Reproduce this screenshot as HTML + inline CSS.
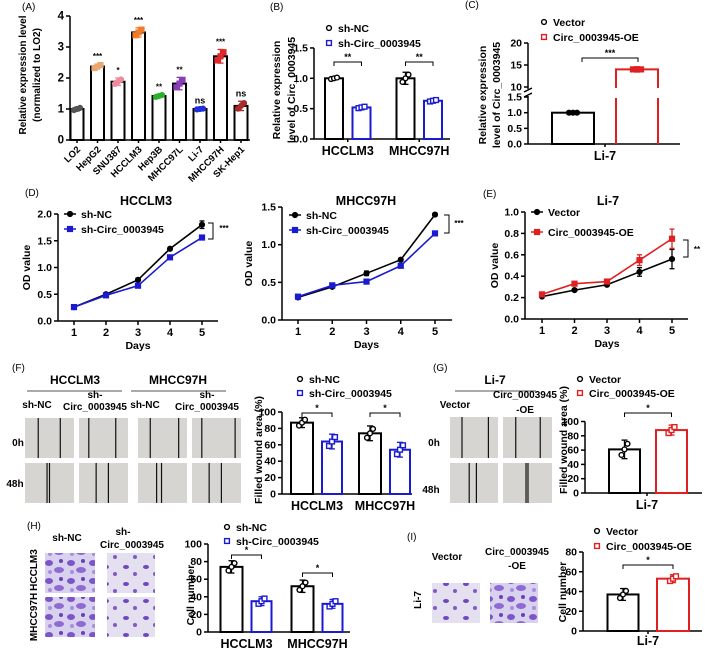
<!DOCTYPE html>
<html><head><meta charset="utf-8">
<style>
html,body{margin:0;padding:0;background:#fff;}
svg{display:block;font-family:"Liberation Sans",Arial,sans-serif;font-weight:bold;}
</style></head>
<body>
<svg id="fig" width="709" height="651" viewBox="0 0 709 651" xmlns="http://www.w3.org/2000/svg">
<defs>
<pattern id="inv1" width="22" height="18" patternUnits="userSpaceOnUse">
<rect width="22" height="18" fill="#d9d2ee"/>
<ellipse cx="5" cy="5" rx="4" ry="3" fill="#7c55c8"/>
<ellipse cx="15" cy="12" rx="5" ry="3" fill="#8e6ad2"/>
<ellipse cx="17" cy="3" rx="2" ry="2" fill="#6a40b8"/>
<ellipse cx="6" cy="14" rx="2" ry="2" fill="#a88ee0"/>
</pattern>
<pattern id="inv2" width="20" height="17" patternUnits="userSpaceOnUse">
<rect width="20" height="17" fill="#e4e0f0"/>
<ellipse cx="6" cy="6" rx="3" ry="2" fill="#6f48c0"/>
<ellipse cx="15" cy="13" rx="2" ry="2" fill="#7e5acb"/>
</pattern>
</defs>
</svg>
<script>
// ===== data =====
// Panel A
const aCats = ["LO2","HepG2","SNU387","HCCLM3","Hep3B","MHCC97L","Li-7","MHCC97H","SK-Hep1"];
const aVals = [1.0,2.37,1.88,3.47,1.42,1.82,1.0,2.7,1.1];
const aErrs = [0.06,0.08,0.12,0.15,0.05,0.2,0.02,0.22,0.15];
const aSig = ["","***","*","***","**","**","ns","***","ns"];
const aTicks = [0,1,2,3,4];
// Panel B
const bGroups = ["HCCLM3","MHCC97H"];
const bNC = [1.0,1.0];
const bNCerr = [0.02,0.1];
const bSh = [0.52,0.63];
const bShErr = [0.02,0.02];
const bTicks = [0,0.5,1.0,1.5];
// Panel C
const cVals = [1.0,14.0];
const cErrs = [0.04,0.6];
const cLowTicks = [0,0.5,1.0,1.5];
const cHighTicks = [10,15,20];
// Panel D/E
const days = [1,2,3,4,5];
const d1NC = [0.26,0.5,0.77,1.35,1.8];
const d1NCerr = [0.02,0.02,0.03,0.02,0.07];
const d1Sh = [0.26,0.48,0.66,1.19,1.56];
const d1ShErr = [0.02,0.02,0.02,0.02,0.02];
const d1Ticks = [0,0.5,1.0,1.5,2.0];
const d2NC = [0.3,0.44,0.62,0.8,1.4];
const d2NCerr = [0.02,0.02,0.03,0.02,0.02];
const d2Sh = [0.31,0.46,0.51,0.72,1.15];
const d2ShErr = [0.02,0.02,0.02,0.02,0.02];
const d2Ticks = [0,0.5,1.0,1.5];
const eVec = [0.21,0.27,0.32,0.44,0.56];
const eVecErr = [0.01,0.01,0.01,0.04,0.09];
const eOE = [0.23,0.33,0.35,0.55,0.75];
const eOEerr = [0.01,0.01,0.01,0.05,0.09];
const eTicks = [0,0.2,0.4,0.6,0.8,1.0];
// Panel F
const fGroups = ["HCCLM3","MHCC97H"];
const fNC = [87,74];
const fNCerr = [6,9];
const fSh = [64,54];
const fShErr = [9,9];
const fTicks = [0,20,40,60,80,100];
// Panel G
const gVals = [61,88];
const gErrs = [13,7];
const gTicks = [0,20,40,60,80,100];
// Panel H
const hGroups = ["HCCLM3","MHCC97H"];
const hNC = [74,52];
const hNCerr = [7,7];
const hSh = [35,32];
const hShErr = [5,5];
const hTicks = [0,20,40,60,80,100];
// Panel I
const iVals = [37,53];
const iErrs = [6,4];
const iTicks = [0,20,40,60,80];

// ===== helpers =====
const NS = "http://www.w3.org/2000/svg";
const svg = document.getElementById('fig');
function mk(tag, attrs, name) {
  const e = document.createElementNS(NS, tag);
  for (const k in attrs) e.setAttribute(k, attrs[k]);
  
  
  svg.appendChild(e);
  return e;
}
function T(x, y, s, size, name, o) {
  o = o || {};
  const a = {x: x, y: y, 'font-size': size, 'text-anchor': o.anchor || 'middle', fill: o.fill || '#000'};
  if (o.rot) a.transform = 'rotate(' + o.rot + ' ' + x + ' ' + y + ')';
  if (o.weight) a['font-weight'] = o.weight;
  const e = mk('text', a, name);
  e.textContent = s;
  return e;
}
function L(x1, y1, x2, y2, name, c, w) {
  return mk('line', {x1: x1, y1: y1, x2: x2, y2: y2, stroke: c || '#000', 'stroke-width': w || 1.5}, name);
}
function yAxis(ax, yOf, ticks, fmt, name, fs) {
  L(ax, yOf(ticks[ticks.length - 1]) , ax, yOf(ticks[0]), name + '-y-axis');
  ticks.forEach(t => {
    L(ax - 4, yOf(t), ax, yOf(t), name + '-y-tick');
    T(ax - 6, yOf(t) + 3.5, fmt(t), fs || 10.5, name + '-y-tick-label', {anchor: 'end'});
  });
}
function marker(x, y, shape, color, name, filled) {
  if (shape === 'c') return mk('circle', {cx: x, cy: y, r: 2.4, fill: filled ? color : '#fff', stroke: color, 'stroke-width': 1.4}, name);
  return mk('rect', {x: x - 2.4, y: y - 2.4, width: 4.8, height: 4.8, fill: filled ? color : '#fff', stroke: color, 'stroke-width': 1.4}, name);
}
function errBar(x, yLo, yHi, color, name, cap) {
  cap = cap || 3;
  L(x, yLo, x, yHi, name, color, 1.3);
  L(x - cap, yHi, x + cap, yHi, name + '-cap', color, 1.3);
  L(x - cap, yLo, x + cap, yLo, name + '-cap', color, 1.3);
}
function bar(cx, w, yOf, v, e, color, shape, name) {
  mk('rect', {x: cx - w / 2, y: yOf(v), width: w, height: yOf(0) - yOf(v), fill: '#fff', stroke: color, 'stroke-width': 2}, name);
  errBar(cx, yOf(v - e), yOf(v + e), color, name + '-error');
  [-3, 0, 3].forEach((dx, k) => {
    const vv = v + (k - 1) * e * 0.6;
    marker(cx + dx, yOf(vv), shape, color, name + '-point', false);
  });
}
function bracket(x1, x2, y, label, name) {
  mk('path', {d: 'M' + x1 + ' ' + (y + 4) + 'V' + y + 'H' + x2 + 'V' + (y + 4), fill: 'none', stroke: '#000', 'stroke-width': 1}, name);
  T((x1 + x2) / 2, y - 2, label, 9, name + '-label');
}
function legend(x, y, label, shape, color, name, line) {
  if (line) L(x - 6, y, x + 6, y, name + '-line', color, 1.5);
  marker(x, y, shape, color, name + '-marker', !!line);
  T(x + (line ? 11 : 9), y + 4, label, 10.5, name + '-label', {anchor: 'start'});
}
function panelLabel(x, y, s) { T(x, y, s, 10, 'panel-label-' + s.replace(/[()]/g, '').toLowerCase(), {anchor: 'start', weight: 'normal'}); }

// ===== Panel A =====
panelLabel(22, 10, '(A)');
(function () {
  const ax = 70, y0 = 140, ppu = 31, xEnd = 250;
  const yOf = v => y0 - v * ppu;
  const xOf = i => 77 + i * 20.5;
  const colors = ['#555', '#e8a870', '#f08a9a', '#f07a28', '#2ab02a', '#8a3cb8', '#2030d8', '#e02828', '#a82a2a'];
  yAxis(ax, yOf, aTicks, t => String(t), 'a', 11.5);
  L(ax, y0, xEnd, y0, 'a-x-axis');
  aCats.forEach((c, i) => {
    mk('rect', {x: xOf(i) - 6.5, y: yOf(aVals[i]), width: 13, height: y0 - yOf(aVals[i]), fill: '#fff', stroke: '#000', 'stroke-width': 2}, 'a-bar-' + c.toLowerCase());
    errBar(xOf(i), yOf(aVals[i] - aErrs[i]), yOf(aVals[i] + aErrs[i]), colors[i], 'a-error-' + c.toLowerCase());
    [-3, 0, 3].forEach((dx, k) => marker(xOf(i) + dx, yOf(aVals[i] + (k - 1) * aErrs[i] * 0.6), i % 2 ? 's' : 'c', colors[i], 'a-point', true));
    L(xOf(i), y0, xOf(i), y0 + 3, 'a-x-tick');
    T(xOf(i) + 4, y0 + 10, c, 9.5, 'a-x-label', {anchor: 'end', rot: -45});
    if (aSig[i]) T(xOf(i), yOf(aVals[i] + aErrs[i]) - 5, aSig[i], aSig[i] === 'ns' ? 9 : 8, 'a-sig-' + c.toLowerCase());
  });
  T(26, 75, 'Relative expression level', 10, 'a-y-axis-title', {rot: -90});
  T(40, 75, '(normalized to LO2)', 10, 'a-y-axis-title-2', {rot: -90});
})();

// ===== Panel B =====
panelLabel(270, 10, '(B)');
(function () {
  const ax = 314, y0 = 139, ppu = 60.7;
  const yOf = v => y0 - v * ppu;
  const gx = g => 334 + g * 71.5;
  yAxis(ax, yOf, bTicks, t => t.toFixed(1), 'b');
  L(ax, y0, 450, y0, 'b-x-axis');
  bGroups.forEach((g, i) => {
    bar(gx(i), 18, yOf, bNC[i], bNCerr[i], '#000', 'c', 'b-bar-shnc-' + g.toLowerCase());
    bar(gx(i) + 27.5, 18, yOf, bSh[i], bShErr[i], '#1a1ad0', 's', 'b-bar-shcirc-' + g.toLowerCase());
    L(gx(i) + 13.75, y0, gx(i) + 13.75, y0 + 3, 'b-x-tick');
    T(gx(i) + 13.75, y0 + 16, g, 12.5, 'b-x-label');
    bracket(gx(i), gx(i) + 27.5, 62, '**', 'b-sig-' + g.toLowerCase());
  });
  legend(329, 28, 'sh-NC', 'c', '#000', 'b-legend-shnc');
  legend(329, 43, 'sh-Circ_0003945', 's', '#1a1ad0', 'b-legend-shcirc');
  T(280, 90, 'Relative expression', 10.5, 'b-y-axis-title', {rot: -90});
  T(295, 90, 'level of Circ_0003945', 10.5, 'b-y-axis-title-2', {rot: -90});
})();

// ===== Panel C =====
panelLabel(465, 8, '(C)');
(function () {
  const ax = 528, y0 = 144;
  const yLow = v => y0 - v * 31.3;
  const yHigh = v => 87 - (v - 10) * 4.4;
  const yOf = v => v <= 1.5 ? yLow(v) : yHigh(v);
  L(ax, yHigh(20), ax, 89, 'c-y-axis-upper');
  L(ax, 96, ax, y0, 'c-y-axis-lower');
  L(ax - 4, 92, ax + 4, 88, 'c-axis-break');
  L(ax - 4, 97, ax + 4, 93, 'c-axis-break');
  cHighTicks.forEach(t => { L(ax - 4, yHigh(t), ax, yHigh(t), 'c-y-tick'); T(ax - 6, yHigh(t) + 3.5, String(t), 10.5, 'c-y-tick-label', {anchor: 'end'}); });
  cLowTicks.forEach(t => { L(ax - 4, yLow(t), ax, yLow(t), 'c-y-tick'); T(ax - 6, yLow(t) + 3.5, t.toFixed(1), 10.5, 'c-y-tick-label', {anchor: 'end'}); });
  L(ax, y0, 680, y0, 'c-x-axis');
  const cols = ['#000', '#e02020'];
  const xs = i => 573 + i * 64;
  cVals.forEach((v, i) => {
    const c = cols[i];
    const top = yOf(v);
    if (v > 1.5) {
      mk('path', {d: 'M' + (xs(i) - 21) + ' ' + y0 + 'V98M' + (xs(i) - 21) + ' 88V' + top + 'H' + (xs(i) + 21) + 'V88M' + (xs(i) + 21) + ' 98V' + y0, fill: 'none', stroke: c, 'stroke-width': 2}, 'c-bar-oe');
    } else {
      mk('rect', {x: xs(i) - 21, y: top, width: 42, height: y0 - top, fill: '#fff', stroke: c, 'stroke-width': 2}, 'c-bar-vector');
    }
    errBar(xs(i), yOf(v - cErrs[i]), yOf(v + cErrs[i]), c, 'c-error');
    [-4, 0, 4].forEach(dx => marker(xs(i) + dx, top, i ? 's' : 'c', c, 'c-point', true));
  });
  L(605, y0, 605, y0 + 3, 'c-x-tick');
  T(605, 160, 'Li-7', 12.5, 'c-x-label');
  bracket(582, 638, 58, '***', 'c-sig');
  legend(544, 22, 'Vector', 'c', '#000', 'c-legend-vector');
  legend(544, 37, 'Circ_0003945-OE', 's', '#e02020', 'c-legend-oe');
  T(486, 95, 'Relative expression', 10.5, 'c-y-axis-title', {rot: -90});
  T(500, 95, 'level of Circ_0003945', 10.5, 'c-y-axis-title-2', {rot: -90});
})();

// ===== Line charts D/E =====
function lineChart(cfg) {
  const yOf = v => cfg.y0 - v * cfg.ppu;
  const xOf = d => cfg.x1 + (d - 1) * cfg.step;
  yAxis(cfg.ax, yOf, cfg.ticks, t => t.toFixed(1), cfg.name);
  L(cfg.ax, cfg.y0, cfg.xEnd, cfg.y0, cfg.name + '-x-axis');
  days.forEach(d => { L(xOf(d), cfg.y0, xOf(d), cfg.y0 + 4, cfg.name + '-x-tick'); T(xOf(d), cfg.y0 + 15, String(d), 11, cfg.name + '-x-tick-label'); });
  cfg.series.forEach(s => {
    const pts = days.map((d, i) => xOf(d) + ',' + yOf(s.vals[i])).join(' ');
    mk('polyline', {points: pts, fill: 'none', stroke: s.color, 'stroke-width': 1.6}, cfg.name + '-line-' + s.key);
    days.forEach((d, i) => {
      errBar(xOf(d), yOf(s.vals[i] - s.errs[i]), yOf(s.vals[i] + s.errs[i]), s.color, cfg.name + '-error-' + s.key, 2.5);
      marker(xOf(d), yOf(s.vals[i]), s.shape, s.color, cfg.name + '-point-' + s.key, true);
    });
  });
  T((cfg.x1 + xOf(5)) / 2, cfg.y0 + 28, 'Days', 10.5, cfg.name + '-x-axis-title');
  T(cfg.ylx, (cfg.y0 + yOf(cfg.ticks[cfg.ticks.length - 1])) / 2, 'OD value', 10.5, cfg.name + '-y-axis-title', {rot: -90});
}
panelLabel(25, 196, '(D)');
T(146, 205, 'HCCLM3', 12.5, 'd1-title');
lineChart({name: 'd1', ax: 58, y0: 321, ppu: 53.5, x1: 74, step: 32, xEnd: 218, ticks: d1Ticks, ylx: 30,
  series: [{key: 'shnc', vals: d1NC, errs: d1NCerr, color: '#000', shape: 'c'}, {key: 'shcirc', vals: d1Sh, errs: d1ShErr, color: '#1a1ad0', shape: 's'}]});
legend(70, 214, 'sh-NC', 'c', '#000', 'd1-legend-shnc', true);
legend(70, 229, 'sh-Circ_0003945', 's', '#1a1ad0', 'd1-legend-shcirc', true);
mk('path', {d: 'M208 223H213V239H208', fill: 'none', stroke: '#000', 'stroke-width': 1}, 'd1-sig-bracket');
T(224, 231, '***', 8, 'd1-sig-label');

T(366, 205, 'MHCC97H', 12.5, 'd2-title');
lineChart({name: 'd2', ax: 282, y0: 320, ppu: 75.3, x1: 298, step: 34.25, xEnd: 452, ticks: d2Ticks, ylx: 252,
  series: [{key: 'shnc', vals: d2NC, errs: d2NCerr, color: '#000', shape: 'c'}, {key: 'shcirc', vals: d2Sh, errs: d2ShErr, color: '#1a1ad0', shape: 's'}]});
legend(295, 215, 'sh-NC', 'c', '#000', 'd2-legend-shnc', true);
legend(295, 230, 'sh-Circ_0003945', 's', '#1a1ad0', 'd2-legend-shcirc', true);
mk('path', {d: 'M444 215H449V233H444', fill: 'none', stroke: '#000', 'stroke-width': 1}, 'd2-sig-bracket');
T(459, 226, '***', 8, 'd2-sig-label');

panelLabel(483, 197, '(E)');
T(608, 205, 'Li-7', 12.5, 'e-title');
lineChart({name: 'e', ax: 525, y0: 319, ppu: 107, x1: 542, step: 32.5, xEnd: 688, ticks: eTicks, ylx: 498,
  series: [{key: 'vector', vals: eVec, errs: eVecErr, color: '#000', shape: 'c'}, {key: 'oe', vals: eOE, errs: eOEerr, color: '#e02020', shape: 's'}]});
legend(537, 212, 'Vector', 'c', '#000', 'e-legend-vector', true);
legend(537, 232, 'Circ_0003945-OE', 's', '#e02020', 'e-legend-oe', true);
mk('path', {d: 'M683 240H688V257H683', fill: 'none', stroke: '#000', 'stroke-width': 1}, 'e-sig-bracket');
T(697, 252, '**', 8, 'e-sig-label');

// ===== Image helpers =====
function scratch(x, y, w, h, lines, name) {
  mk('rect', {x: x, y: y, width: w, height: h, fill: '#d6d5d1'}, name);
  lines.forEach(f => L(x + f * w, y, x + f * w, y + h, name + '-edge', '#111', 1.2));
}
function invImg(x, y, w, h, pat, name) {
  mk('rect', {x: x, y: y, width: w, height: h, fill: 'url(#' + pat + ')'}, name);
}

// ===== Panel F =====
panelLabel(12, 371, '(F)');
T(75, 384, 'HCCLM3', 12, 'f-title-hcclm3');
T(178, 384, 'MHCC97H', 12, 'f-title-mhcc97h');
L(27, 391, 122, 391, 'f-title-underline', '#555', 1);
L(131, 391, 226, 391, 'f-title-underline', '#555', 1);
T(37, 408, 'sh-NC', 10, 'f-col-label');
T(95, 398, 'sh-', 10, 'f-col-label');
T(95, 410, 'Circ_0003945', 10, 'f-col-label');
T(145, 408, 'sh-NC', 10, 'f-col-label');
T(207, 398, 'sh-', 10, 'f-col-label');
T(207, 410, 'Circ_0003945', 10, 'f-col-label');
T(18, 446, '0h', 10, 'f-row-label-0h');
T(15, 487, '48h', 10, 'f-row-label-48h');
scratch(25, 418, 49, 40, [0.27, 0.72], 'f-img-hcclm3-nc-0h');
scratch(79, 418, 49, 40, [0.2, 0.75], 'f-img-hcclm3-sh-0h');
scratch(138, 418, 49, 40, [0.25, 0.83], 'f-img-mhcc-nc-0h');
scratch(192, 418, 49, 40, [0.2, 0.88], 'f-img-mhcc-sh-0h');
scratch(25, 463, 49, 40, [0.45, 0.5], 'f-img-hcclm3-nc-48h');
scratch(79, 463, 49, 40, [0.35, 0.6], 'f-img-hcclm3-sh-48h');
scratch(138, 463, 49, 40, [0.38, 0.48], 'f-img-mhcc-nc-48h');
scratch(192, 463, 49, 40, [0.35, 0.6], 'f-img-mhcc-sh-48h');

function groupedBars(cfg) {
  const yOf = v => cfg.y0 - v * cfg.ppu;
  const gx = g => cfg.gx0 + g * cfg.gStep;
  yAxis(cfg.ax, yOf, cfg.ticks, t => String(t), cfg.name);
  L(cfg.ax, cfg.y0, cfg.xEnd, cfg.y0, cfg.name + '-x-axis');
  cfg.groups.forEach((g, i) => {
    bar(gx(i), 22, yOf, cfg.nc[i], cfg.ncErr[i], '#000', 'c', cfg.name + '-bar-shnc-' + g.toLowerCase());
    bar(gx(i) + cfg.sStep, 20, yOf, cfg.sh[i], cfg.shErr[i], '#1a1ad0', 's', cfg.name + '-bar-shcirc-' + g.toLowerCase());
    T(gx(i) + cfg.sStep / 2, cfg.y0 + 16, g, 12.5, cfg.name + '-x-label');
    bracket(gx(i), gx(i) + cfg.sStep, cfg.brY[i], '*', cfg.name + '-sig-' + g.toLowerCase());
  });
}
groupedBars({name: 'f', ax: 282, y0: 494, ppu: 0.82, gx0: 302, gStep: 68, sStep: 30, xEnd: 412, ticks: fTicks,
  groups: fGroups, nc: fNC, ncErr: fNCerr, sh: fSh, shErr: fShErr, brY: [413, 413]});
T(262, 450, 'Filled wound area (%)', 10.5, 'f-y-axis-title', {rot: -90});
legend(300, 379, 'sh-NC', 'c', '#000', 'f-legend-shnc');
legend(300, 393, 'sh-Circ_0003945', 's', '#1a1ad0', 'f-legend-shcirc');

// ===== Panel G =====
panelLabel(433, 371, '(G)');
T(495, 384, 'Li-7', 12, 'g-title');
L(455, 391, 536, 391, 'g-title-underline', '#555', 1);
T(455, 408, 'Vector', 10, 'g-col-label');
T(525, 398, 'Circ_0003945', 10, 'g-col-label');
T(525, 413, '-OE', 10, 'g-col-label');
T(434, 446, '0h', 10, 'g-row-label-0h');
T(431, 493, '48h', 10, 'g-row-label-48h');
scratch(450, 417, 48, 41, [0.25, 0.8], 'g-img-vector-0h');
scratch(503, 417, 49, 41, [0.26, 0.76], 'g-img-oe-0h');
scratch(450, 463, 48, 40, [0.4, 0.55], 'g-img-vector-48h');
scratch(503, 463, 49, 40, [0.47, 0.51], 'g-img-oe-48h');
(function () {
  const ax = 585, y0 = 493, ppu = 0.715;
  const yOf = v => y0 - v * ppu;
  const xs = i => 624.5 + i * 47;
  yAxis(ax, yOf, gTicks, t => String(t), 'g');
  L(ax, y0, 702, y0, 'g-x-axis');
  bar(xs(0), 31, yOf, gVals[0], gErrs[0], '#000', 'c', 'g-bar-vector');
  bar(xs(1), 31, yOf, gVals[1], gErrs[1], '#e02020', 's', 'g-bar-oe');
  L(647, y0, 647, y0 + 3, 'g-x-tick');
  T(647, 509, 'Li-7', 12.5, 'g-x-label');
  bracket(xs(0), xs(1), 413, '*', 'g-sig');
  T(567, 440, 'Filled wound area (%)', 10.5, 'g-y-axis-title', {rot: -90});
  legend(580, 379, 'Vector', 'c', '#000', 'g-legend-vector');
  legend(580, 393, 'Circ_0003945-OE', 's', '#e02020', 'g-legend-oe');
})();

// ===== Panel H =====
panelLabel(27, 529, '(H)');
T(67, 541, 'sh-NC', 10, 'h-col-label');
T(123, 535, 'sh-', 10, 'h-col-label');
T(132, 548, 'Circ_0003945', 10, 'h-col-label');
T(37, 570, 'HCCLM3', 10, 'h-row-label-hcclm3', {rot: -90});
T(37, 617, 'MHCC97H', 10, 'h-row-label-mhcc97h', {rot: -90});
invImg(45, 553, 50, 40, 'inv1', 'h-img-hcclm3-nc');
invImg(107, 553, 48, 40, 'inv2', 'h-img-hcclm3-sh');
invImg(45, 597, 50, 40, 'inv1', 'h-img-mhcc-nc');
invImg(107, 597, 48, 40, 'inv2', 'h-img-mhcc-sh');
groupedBars({name: 'h', ax: 208, y0: 632, ppu: 0.88, gx0: 231.5, gStep: 71, sStep: 30, xEnd: 350, ticks: hTicks,
  groups: hGroups, nc: hNC, ncErr: hNCerr, sh: hSh, shErr: hShErr, brY: [555, 573]});
T(194, 595, 'Cell number', 10.5, 'h-y-axis-title', {rot: -90});
legend(227, 527, 'sh-NC', 'c', '#000', 'h-legend-shnc');
legend(227, 541, 'sh-Circ_0003945', 's', '#1a1ad0', 'h-legend-shcirc');

// ===== Panel I =====
panelLabel(407, 540, '(I)');
T(447, 560, 'Vector', 10, 'i-col-label');
T(517, 555, 'Circ_0003945', 10, 'i-col-label');
T(517, 569, '-OE', 10, 'i-col-label');
T(421, 600, 'Li-7', 10, 'i-row-label', {rot: -90});
invImg(432, 583, 48, 40, 'inv2', 'i-img-vector');
invImg(490, 583, 48, 40, 'inv1', 'i-img-oe');
(function () {
  const ax = 583, y0 = 631, ppu = 0.9875;
  const yOf = v => y0 - v * ppu;
  const xs = i => 623 + i * 50;
  yAxis(ax, yOf, iTicks, t => String(t), 'i');
  L(ax, y0, 702, y0, 'i-x-axis');
  bar(xs(0), 31, yOf, iVals[0], iErrs[0], '#000', 'c', 'i-bar-vector');
  bar(xs(1), 32, yOf, iVals[1], iErrs[1], '#e02020', 's', 'i-bar-oe');
  L(648, y0, 648, y0 + 3, 'i-x-tick');
  T(648, 645, 'Li-7', 12.5, 'i-x-label');
  bracket(xs(0), xs(1), 565, '*', 'i-sig');
  T(566, 592, 'Cell number', 10.5, 'i-y-axis-title', {rot: -90});
  legend(597, 531, 'Vector', 'c', '#000', 'i-legend-vector');
  legend(597, 546, 'Circ_0003945-OE', 's', '#e02020', 'i-legend-oe');
})();
</script>
</body></html>
